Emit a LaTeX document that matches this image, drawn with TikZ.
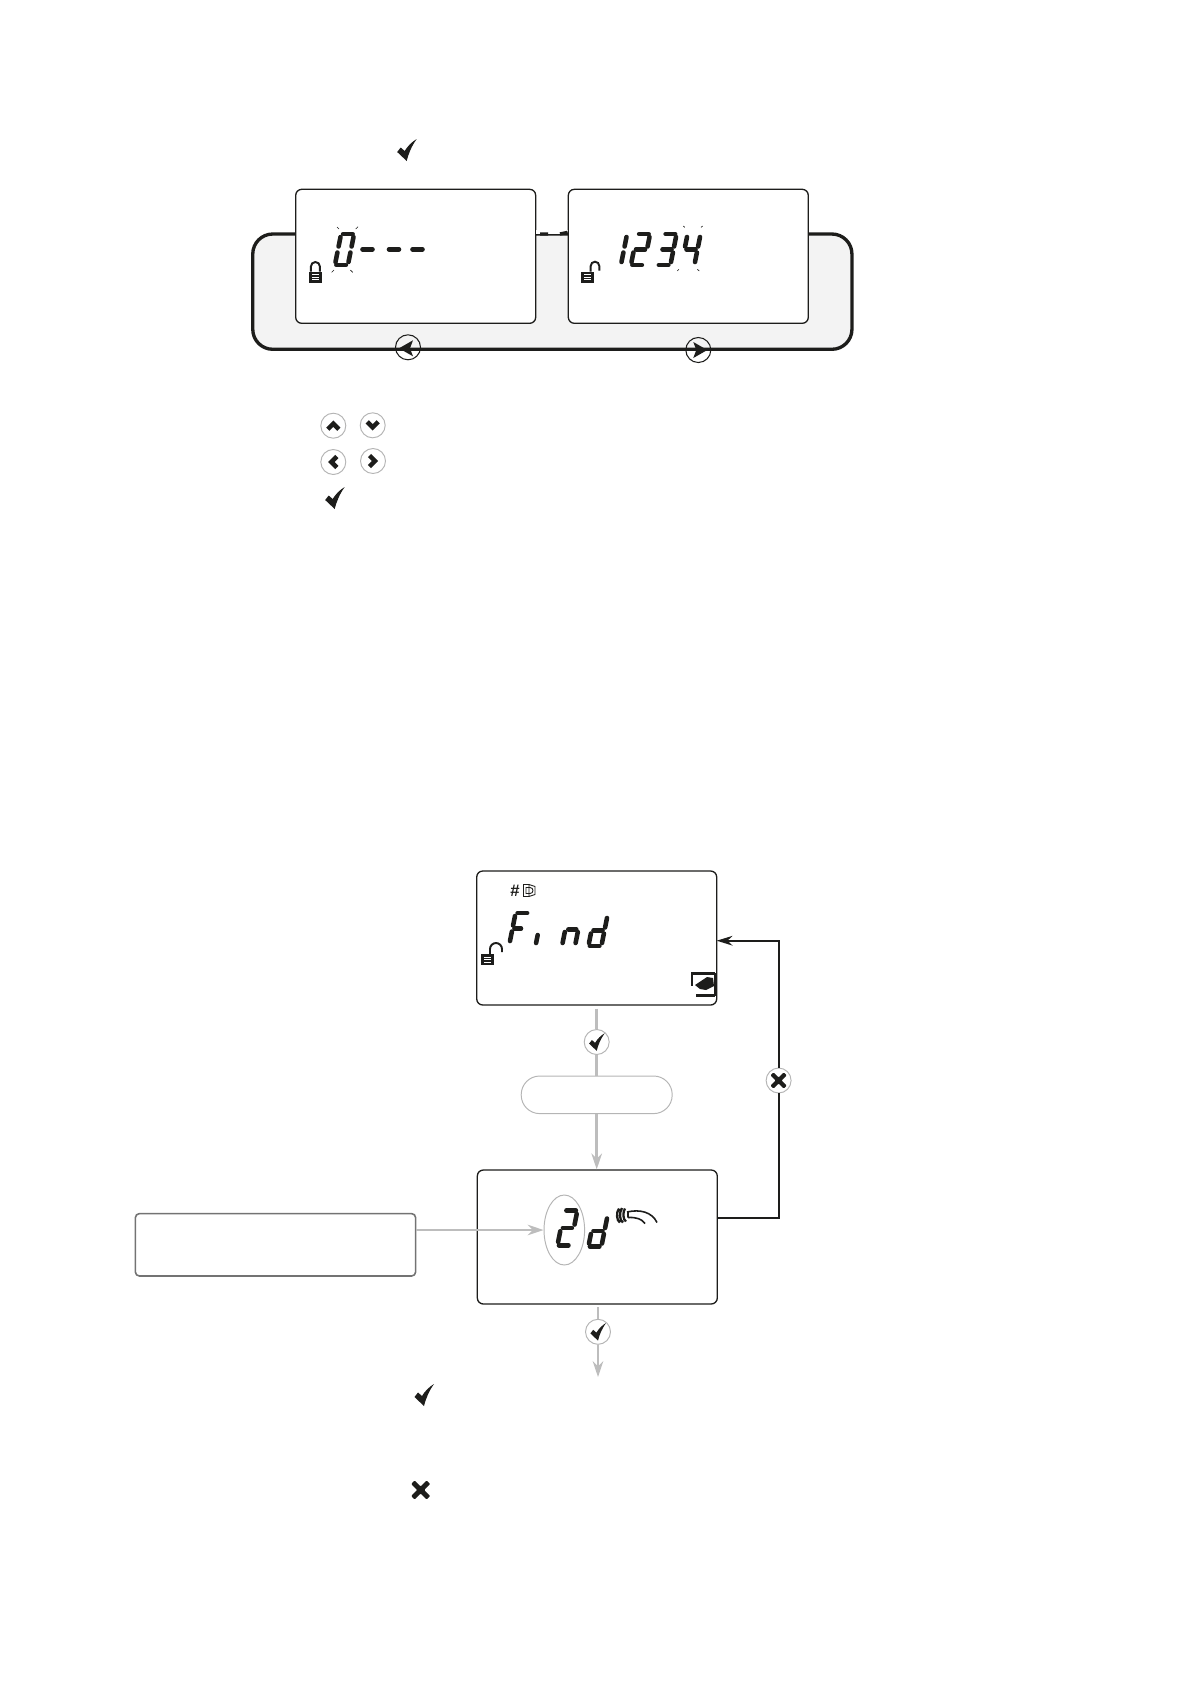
\documentclass[tikz,border=0pt]{standalone}
\usepackage{fontspec}
\setsansfont{Liberation Sans}
\usetikzlibrary{arrows.meta,shapes.geometric}
\definecolor{panelgrey}{HTML}{F3F3F3}
\definecolor{flowgrey}{HTML}{BDBDBD}
\definecolor{ringgrey}{HTML}{B5B5B5}
\definecolor{ink}{HTML}{1D1D1B}

\tikzset{
  lcdbox/.style={draw=ink,fill=white,line width=0.75pt,rounded corners=0.12cm,
    minimum width=4.8cm,minimum height=2.68cm,inner sep=0pt},
  lcdseg/.style={draw=ink,line width=2.6pt,line cap=round},
  flowline/.style={draw=flowgrey,line width=1.5pt},
  flowarrow/.style={flowline,-{Stealth[length=9pt,width=6pt]}},
  backarrow/.style={draw=ink,line width=1.2pt,-{Stealth[length=9pt,width=5.5pt]}},
  keybtn/.style={circle,draw=ringgrey,fill=white,line width=0.55pt,minimum size=0.5cm,inner sep=0pt},
  bandbtn/.style={circle,draw=ink,line width=0.6pt,minimum size=0.5cm,inner sep=0pt},
  blinktick/.style={draw=ink,line width=0.35pt},
  checkmark/.pic={
    \fill[ink] (-9.5,2) -- (-6,-2.5) -- (-2,1) .. controls (1,-4) and (5,-8) .. (10,-11)
      .. controls (5,-4) and (2,3) .. (0,11) -- cycle;
  },
  crossmark/.pic={
    \fill[ink,rounded corners=0.5pt] (0,-3.5) -- (6,-9.5) -- (9.5,-6) -- (3.5,0) -- (9.5,6) -- (6,9.5)
      -- (0,3.5) -- (-6,9.5) -- (-9.5,6) -- (-3.5,0) -- (-9.5,-6) -- (-6,-9.5) -- cycle;
  },
  chevron/.pic={
    \draw[ink,line width=2.6pt] (-5.5,3.5) -- (0,-2) -- (5.5,3.5);
  },
  lockbody/.pic={
    \fill[ink] (0,0) rectangle (13,11);
    \draw[white,line width=0.4pt] (3,3) -- (10,3) (3,5.5) -- (10,5.5) (3,8) -- (10,8);
  },
}
% 7-segment positions in a 16 x 35 cell, origin bottom left
\newcommand{\sA}{(4,-33) -- (13.5,-33)}
\newcommand{\sB}{(15,-30) -- (15,-20.5)}
\newcommand{\sC}{(15,-14.5) -- (15,-5)}
\newcommand{\sD}{(3.5,-2) -- (13,-2)}
\newcommand{\sE}{(2,-5) -- (2,-14.5)}
\newcommand{\sF}{(2,-20.5) -- (2,-30)}
\newcommand{\sG}{(4,-17.5) -- (13,-17.5)}
% shorter pieces for the small letters
\newcommand{\sH}{(4,-17.5) -- (10.5,-17.5)}
\newcommand{\sI}{(2,-3) -- (2,-11)}
\newcommand{\sJ}{(2,-3) -- (2,-14)}
\newcommand{\sK}{(5,-16.5) -- (13,-16.5)}
\newcommand{\sL}{(15,-3) -- (15,-14)}
\newcommand{\lcddigit}[4][]{%
  \begin{scope}[shift={(#2,#3)},xslant=0.2,#1]
    \foreach \seg in {#4}{\draw[lcdseg] \seg;}
  \end{scope}}

\begin{document}
\begin{tikzpicture}[x=0.02cm,y=-0.02cm]
  \path[use as bounding box] (0,0) rectangle (1191,1684);

  % Code entry band
  \node[draw=ink,fill=panelgrey,line width=1.9pt,rounded corners=0.4cm,
    minimum width=11.986cm,minimum height=2.306cm,inner sep=0pt] (codeband) at (552.35,291.65) {};
  \node[lcdbox] (lcdzero) at (415.7,256.3) {};
  \node[lcdbox] (lcdpin) at (688.3,256.3) {};
  \draw[white,line width=2.2pt] (lcdzero.east |- codeband.north) -- (lcdpin.west |- codeband.north);
  \draw[ink,line width=1.9pt] (540,234) -- (548,234) (560,234) -- (lcdpin.west |- codeband.north);

  \pic at (406.7,150) {checkmark};

  % First screen
  \lcddigit{332.5}{267}{\sA,\sB,\sC,\sD,\sE,\sF}
  \foreach \xx in {360.5,387,410.5}{
    \draw[lcdseg] (\xx+2,249.3) -- (\xx+12,249.3);
  }
  \foreach \ax/\ay/\bx/\by in {337/227/339/229,358/226.7/355.7/229,331.7/272.3/334/270,352.7/272.3/350.3/270}{
    \draw[blinktick] (\ax,\ay) -- (\bx,\by);
  }
  \pic at (309,271.7) {lockbody};
  \draw[ink,line width=1.1pt] (310.9,271.7) -- (310.9,266.5) arc[start angle=180,end angle=360,radius=4.5] -- (319.9,271.7);

  % Second screen
  \lcddigit{605.5}{267}{\sB,\sC}
  \lcddigit{628.5}{267}{\sA,\sB,\sG,\sE,\sD}
  \lcddigit{655}{267}{\sA,\sB,\sG,\sC,\sD}
  \lcddigit{679}{267}{\sF,\sG,\sB,\sC}
  \foreach \ax/\ay/\bx/\by in {683.3/226/684.7/227.3,702.7/226/701/227.3,677.3/271/679/269.3,699.3/271/697.3/269.3}{
    \draw[blinktick] (\ax,\ay) -- (\bx,\by);
  }
  \pic at (581,271.7) {lockbody};
  \draw[ink,line width=1.1pt] (590.7,271.7) -- (590.7,266) arc[start angle=180,end angle=360,radius=4.3] -- (599.3,270.7);

  % Band buttons
  \node[bandbtn] (btnback) at (408,347.3) {};
  \node[bandbtn] (btnnext) at (698.3,350) {};
  \fill[ink] (btnback.center) ++(-9,1) -- ++(14,-8) -- ++(-3,8) -- ++(3,8) -- cycle;
  \fill[ink] (btnnext.center) ++(9,0) -- ++(-14,-8) -- ++(3,8) -- ++(-3,8) -- cycle;

  % Key legend
  \node[keybtn] (keyup) at (333.3,425.7) {};
  \node[keybtn] (keydown) at (372.7,425.3) {};
  \node[keybtn] (keyleft) at (333.3,462) {};
  \node[keybtn] (keyright) at (373,461) {};
  \pic at (keyup) {chevron};
  \pic[yscale=-1] at (keydown) {chevron};
  \pic[rotate=90] at (keyleft) {chevron};
  \pic[rotate=-90] at (keyright) {chevron};
  \pic at (334.7,498) {checkmark};

  % Flow, upper screen
  \node[lcdbox] (lcdfind) at (596.7,938) {};
  \node[draw=ringgrey,fill=white,line width=0.55pt,rounded corners=0.37cm,
    minimum width=3.02cm,minimum height=0.752cm,inner sep=0pt] (waitpill) at (596.7,1094.8) {};
  \node[keybtn] (okfind) at (596.7,1042) {};
  \node[keybtn] (cancelbtn) at (778.6,1080.5) {};
  \pic[scale=0.8] at (okfind) {checkmark};
  \pic[scale=0.85] at (cancelbtn) {crossmark};
  \draw[flowline,shorten <=0.06cm] (lcdfind.south) -- (okfind.north);
  \draw[flowline] (okfind.south) -- (waitpill.north);

  \lcddigit{507}{946}{\sA,\sF,\sE,\sH}
  \lcddigit{533.5}{946}{\sI}
  \lcddigit{560}{946}{\sJ,\sK,\sL}
  \lcddigit{586}{948}{\sB,\sC,\sD,\sE,\sG}
  \pic at (481,954.3) {lockbody};
  \draw[ink,line width=1.1pt] (490,954.3) -- (490,949) arc[start angle=180,end angle=360,radius=6] -- (502,952);

  \node[font=\sffamily\bfseries\fontsize{9.5}{9.5}\selectfont,text=ink,inner sep=0pt] (hashmark) at (515,890.5) {\#};
  \draw[ink,line width=0.5pt] (523.5,884.5) rectangle (529,896.5) (529,884.5) -- (535,886.5) -- (535,894.5) -- (529,896.5)
    (526,887.5) -- (530,887.5) arc[start angle=-90,end angle=90,radius=3] -- (526,893.5) -- cycle;

  \draw[ink,line width=1.5pt] (692,985.5) -- (692,973.2) -- (715,973.2);
  \draw[ink,line width=1.5pt] (696,995.5) -- (715,995.5);
  \draw[ink,line width=0.8pt] (715,973.2) -- (715,995.5);
  \fill[ink] (695,985) -- (707,977) -- (713,978) -- (714,986) -- (706,990) -- (700,989) -- cycle;

  \draw[backarrow] (cancelbtn.north) |- (716.7,940.7) coordinate (findin);

  % Flow, lower screen
  \node[lcdbox] (lcdcode) at (597.3,1237) {};
  \draw[flowarrow] (waitpill.south) -- (waitpill.south |- lcdcode.north);
  \coordinate (codeout) at (717.3,1217.7);
  \draw[ink,line width=1.2pt] (codeout) -| (cancelbtn.south);

  \node[ellipse,draw=ringgrey,line width=0.55pt,minimum width=0.812cm,minimum height=1.4cm,inner sep=0pt] (codering) at (564.3,1230) {};
  \lcddigit[yscale=1.12]{555}{1247.5}{\sA,\sB,\sG,\sE,\sD}
  \lcddigit{586}{1248.5}{\sB,\sC,\sD,\sE,\sG}

  % Finger on reader
  \draw[ink,line width=1.3pt] (619,1208.5) .. controls (616,1212) and (616.5,1221) .. (620,1222.5)
    (622,1208) .. controls (619,1212) and (619.5,1221) .. (623,1222.5)
    (625,1208.5) .. controls (622.5,1212) and (623,1220) .. (626,1221.5);
  \draw[ink,line width=0.9pt] (627,1212) .. controls (640,1209) and (652,1212) .. (657,1222.5)
    (628,1217.5) .. controls (636,1217) and (642,1219) .. (645,1223.5)
    (628,1212) -- (628,1217.5);

  \node[draw=black!55,fill=white,line width=0.9pt,rounded corners=0.08cm,
    minimum width=5.606cm,minimum height=1.248cm,inner sep=0pt] (notebox) at (275.5,1244.8) {};
  \draw[draw=flowgrey,line width=0.9pt,-{Stealth[length=9pt,width=6pt]}] (notebox.east |- codering) -- (codering);

  \node[keybtn] (okcode) at (598,1331.8) {};
  \pic[scale=0.8] at (okcode) {checkmark};
  \coordinate (flowend) at (598,1377);
  \draw[flowline,shorten <=0.05cm] (okcode.north |- lcdcode.south) -- (okcode.north);
  \draw[flowarrow] (okcode.south) -- (flowend);

  % Legend marks below the flow
  \pic at (424,1395) {checkmark};
  \pic at (420.7,1490) {crossmark};
\end{tikzpicture}
\end{document}
